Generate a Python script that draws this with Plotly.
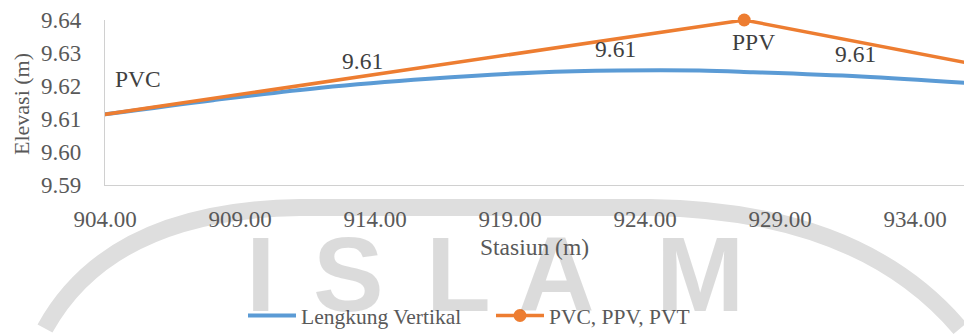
import plotly.graph_objects as go

# Vertical curve profile: stations (m) and elevations (m)
curve_sta = [904.0, 908.0, 912.0, 916.0, 920.0, 923.0, 926.0, 928.0, 932.0, 936.0]
curve_elev = [9.6114, 9.6157, 9.6195, 9.6222, 9.6241, 9.6247, 9.6247, 9.6242, 9.6229, 9.6209]

# Tangent points PVC, PPV, PVT
tan_sta = [903.5, 927.67, 951.84]
tan_elev = [9.6108, 9.6400, 9.6020]

# Point labels
pt_names = ["PVC", "PPV"]
pt_sta = [905.22, 928.0]
pt_elev = [9.6222, 9.6332]

# Elevation labels along the grade line
elev_lbl_sta = [913.52, 922.89, 931.78]
elev_lbl_val = [9.61, 9.61, 9.61]
elev_lbl_y = [9.6276, 9.6311, 9.6296]

x_ticks = [904, 909, 914, 919, 924, 929, 934]
y_ticks = [9.59, 9.60, 9.61, 9.62, 9.63, 9.64]

W, H = 964, 336
ML, MR, MT, MB = 105, 0, 20, 147
PW, PH = W - ML - MR, H - MT - MB

FONT = "Liberation Serif"
TICK_C = "#595959"
LBL_C = "#404040"
BLUE = "#5B9BD5"
ORANGE = "#ED7D31"


def px_to_paper(x, y):
    return (x - ML) / PW, (H - MB - y) / PH


fig = go.Figure()
fig.add_trace(go.Scatter(
    x=curve_sta, y=curve_elev, mode="lines", name="Lengkung Vertikal",
    line=dict(color=BLUE, width=4, shape="spline", smoothing=1.0),
))
fig.add_trace(go.Scatter(
    x=tan_sta, y=tan_elev, mode="lines+markers", name="PVC, PPV, PVT",
    line=dict(color=ORANGE, width=3.5),
    marker=dict(color=ORANGE, size=13),
    cliponaxis=False,
))

annotations = []

# faint background watermark lettering
wm_letters = ["I", "S", "L", "A", "M"]
wm_cx = [260, 348, 458, 556, 700]
for ch, cx in zip(wm_letters, wm_cx):
    xp, yp = px_to_paper(cx, 280)
    annotations.append(dict(
        x=xp, y=yp, xref="paper", yref="paper", text=ch, showarrow=False,
        xanchor="center", yanchor="middle",
        font=dict(family="Liberation Sans", size=106,
                  color="rgba(0,0,0,0.14)", weight="bold"),
    ))

for name, sx, sy in zip(pt_names, pt_sta, pt_elev):
    annotations.append(dict(
        x=sx, y=sy, xref="x", yref="y", text=name, showarrow=False,
        xanchor="center", yanchor="middle",
        font=dict(family=FONT, size=23.5, color=LBL_C),
    ))

for sx, v, sy in zip(elev_lbl_sta, elev_lbl_val, elev_lbl_y):
    annotations.append(dict(
        x=sx, y=sy, xref="x", yref="y", text=f"{v:.2f}", showarrow=False,
        xanchor="center", yanchor="middle",
        font=dict(family=FONT, size=23.5, color=LBL_C),
    ))

# axis titles
tx, ty = px_to_paper(537, 253)
annotations.append(dict(
    x=0.5, y=ty, xref="paper", yref="paper", text="Stasiun (m)", showarrow=False,
    xanchor="center", yanchor="middle",
    font=dict(family=FONT, size=23.5, color=TICK_C),
))
tx, ty = px_to_paper(22, 106)
annotations.append(dict(
    x=tx, y=ty, xref="paper", yref="paper", text="Elevasi (m)", showarrow=False,
    xanchor="center", yanchor="middle", textangle=-90,
    font=dict(family=FONT, size=22, color=TICK_C),
))

# watermark arc band
arc_px = [(45, 336), (110, 215), (300, 212), (650, 212), (860, 215), (960, 336)]
p = [px_to_paper(x, y) for x, y in arc_px]
arc_path = (f"M {p[0][0]},{p[0][1]} Q {p[1][0]},{p[1][1]} {p[2][0]},{p[2][1]} "
            f"L {p[3][0]},{p[3][1]} Q {p[4][0]},{p[4][1]} {p[5][0]},{p[5][1]}")

lx, ly = px_to_paper(243, 323)

fig.update_layout(
    width=W, height=H,
    margin=dict(l=ML, r=MR, t=MT, b=MB, pad=0),
    paper_bgcolor="white", plot_bgcolor="rgba(0,0,0,0)",
    font=dict(family=FONT, size=22, color=TICK_C),
    showlegend=True,
    legend=dict(orientation="h", x=lx, y=ly, xanchor="left", yanchor="middle",
                bgcolor="rgba(0,0,0,0)", font=dict(family=FONT, size=21.5, color=TICK_C),
                itemwidth=48, entrywidth=185, entrywidthmode="pixels"),
    xaxis=dict(range=[904, 935.81], tickvals=x_ticks,
               ticktext=[f"{v:.2f}" for v in x_ticks],
               showgrid=False, zeroline=False, showline=True,
               linecolor="#d0d0d0", linewidth=1.3, ticks="",
               ticklabelstandoff=13,
               tickfont=dict(family=FONT, size=23, color=TICK_C)),
    yaxis=dict(range=[9.59, 9.64], tickvals=y_ticks,
               ticktext=[f"{v:.2f}" for v in y_ticks],
               showgrid=False, zeroline=False, showline=True,
               linecolor="#d0d0d0", linewidth=1.3, ticks="",
               ticklabelstandoff=18,
               tickfont=dict(family=FONT, size=23, color=TICK_C)),
    annotations=annotations,
    shapes=[dict(type="path", path=arc_path, xref="paper", yref="paper",
                 line=dict(color="#dedede", width=17), layer="below")],
)

fig.write_html("out.html")
